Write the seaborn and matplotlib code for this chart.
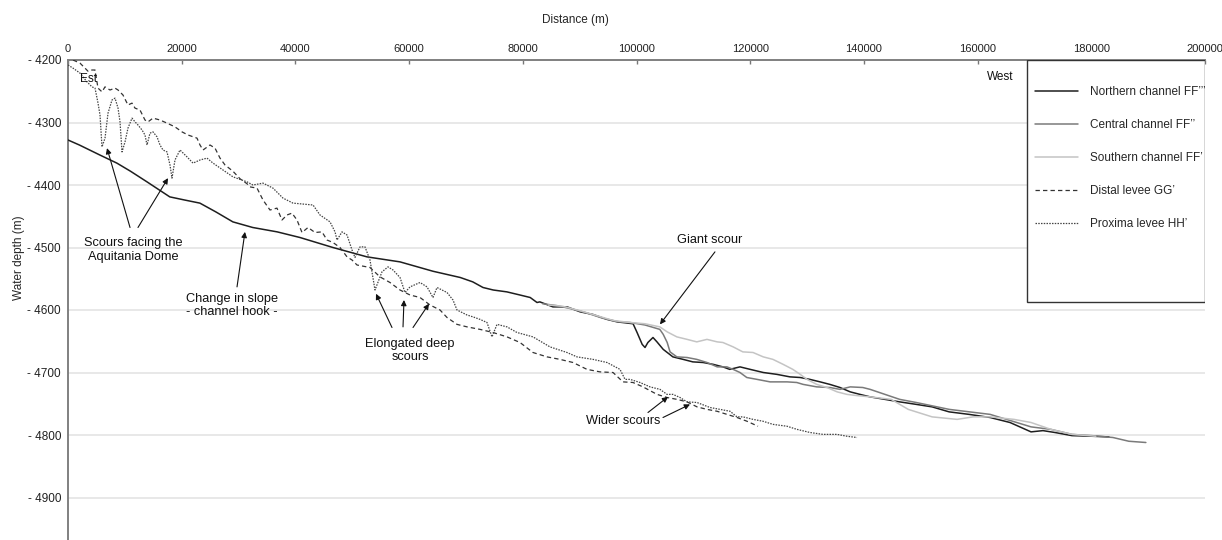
import matplotlib
matplotlib.use("Agg")
import matplotlib.pyplot as plt
import seaborn as sns
import pandas as pd
from matplotlib.patches import Rectangle

# ---------------- data (distance m, depth m) ----------------
north_x = [0, 2000, 5600, 8600, 11000, 13900, 17900, 20500, 23200, 26000, 29000, 32500, 36800, 40800,
           46600, 52600, 58400, 64200, 69000, 71200, 73000, 74800, 77200, 79500, 81300, 82500, 83000,
           85300, 87800, 90100, 92300, 94800, 96600, 99400, 100100, 101000, 101500, 102000, 102900,
           103600, 104700, 106400, 108200, 109900, 111700, 113500, 115200, 116400, 118200, 120000,
           122300, 124700, 127000, 128800, 130500, 132300, 134000, 135800, 137600, 139300, 141100,
           146300, 149200, 152000, 155000, 158500, 162200, 165700, 169400, 171500, 173600, 176600,
           180100, 183100]
north_y = [-4328, -4336, -4352, -4365, -4378, -4395, -4419, -4424, -4429, -4443, -4459, -4468, -4475, -4484,
           -4500, -4515, -4523, -4538, -4548, -4555, -4564, -4568, -4571, -4576, -4580, -4588, -4587,
           -4595, -4595, -4603, -4607, -4615, -4619, -4622, -4636, -4655, -4660, -4652, -4644,
           -4651, -4663, -4675, -4679, -4683, -4684, -4687, -4691, -4695, -4691, -4695,
           -4700, -4703, -4707, -4708, -4711, -4715, -4719, -4724, -4731, -4735, -4739,
           -4747, -4751, -4755, -4763, -4767, -4772, -4780, -4795, -4793, -4796, -4801,
           -4802, -4803]

central_x = [83500, 86000, 88500, 91000, 94000, 97000, 98900, 101500, 104100, 104700, 105400, 105900,
             107100, 108900, 110600, 112400, 114200, 115900, 117000, 118200, 119400, 121200, 123500,
             126500, 128200, 129300, 131700, 134000, 135800, 137600, 139800, 141100, 146300, 149200,
             155000, 162200, 169400, 172900, 176600, 180100, 183800, 186600, 189600]
central_y = [-4590, -4593, -4598, -4604, -4613, -4619, -4620, -4624, -4631, -4639, -4652, -4667,
             -4675, -4676, -4679, -4684, -4691, -4691, -4695, -4700, -4708, -4711, -4715,
             -4715, -4716, -4719, -4723, -4724, -4727, -4723, -4724, -4727, -4743, -4748,
             -4759, -4767, -4787, -4791, -4799, -4801, -4804, -4810, -4812]

south_x = [84500, 87000, 90000, 93000, 96000, 98900, 101500, 104100, 105400, 107100, 108900, 110600,
           112400, 114200, 115200, 117000, 118700, 120500, 122300, 124000, 125800, 127500, 128800,
           130000, 131700, 133500, 135300, 137000, 138800, 141100, 144800, 147800, 152000, 156400,
           159200, 162200, 166400, 169400, 172900, 176600, 180800]
south_y = [-4592, -4594, -4601, -4609, -4617, -4620, -4622, -4627, -4635, -4643, -4647, -4651,
           -4647, -4651, -4652, -4659, -4667, -4668, -4675, -4679, -4687, -4695, -4703,
           -4711, -4719, -4724, -4731, -4735, -4737, -4739, -4743, -4759, -4771, -4775,
           -4771, -4771, -4775, -4780, -4791, -4799, -4802]

distal_x = [880, 2110, 2990, 3520, 4220, 4750, 5280, 5980, 6510, 7390, 8270, 8800, 9670, 10550, 11260,
            11790, 12660, 13540, 14070, 14950, 16180, 17410, 18820, 20050, 21110, 22690, 23220, 23750,
            24980, 25860, 26740, 27620, 29020, 30250, 31490, 32010, 33250, 34300, 35530, 36760, 37640,
            38520, 39400, 40280, 41160, 42220, 43450, 44680, 45560, 46610, 47850, 49080, 49960, 50840,
            53120, 54880, 56640, 58400, 60160, 61920, 63680, 65440, 66670, 68430, 70190, 72470, 74760,
            77220, 79510, 81790, 84260, 86540, 88830, 91290, 93580, 95870, 97620, 99380, 101140,
            103610, 105370, 107130, 108890, 110650, 112400, 114160, 115920, 117680, 119440, 121370]
distal_y = [-4200, -4205, -4213, -4218, -4216, -4216, -4245, -4251, -4243, -4248, -4245, -4248, -4256,
            -4272, -4269, -4277, -4280, -4296, -4299, -4293, -4296, -4301, -4307, -4315, -4320, -4325,
            -4336, -4344, -4336, -4341, -4357, -4368, -4378, -4390, -4398, -4403, -4405, -4424, -4440,
            -4437, -4456, -4448, -4445, -4456, -4476, -4468, -4476, -4475, -4488, -4492, -4500, -4515,
            -4520, -4528, -4532, -4547, -4556, -4568, -4576, -4580, -4592, -4600, -4612, -4623, -4627,
            -4631, -4636, -4643, -4652, -4668, -4675, -4679, -4684, -4695, -4699, -4700, -4715, -4716,
            -4723, -4735, -4740, -4743, -4747, -4755, -4759, -4762, -4767, -4772, -4778, -4786]

prox_x = [0, 880, 2110, 3340, 4220, 4750, 5280, 5630, 5980, 6510, 7040, 7740, 8270, 8800, 9150, 9500,
          10030, 10550, 11260, 11790, 12310, 13020, 13540, 13900, 14420, 14950, 15660, 16180, 16710,
          17410, 17940, 18290, 18820, 19700, 20930, 21990, 23220, 24450, 25510, 27260, 29020, 31490,
          32540, 34300, 36060, 37820, 39580, 43100, 44330, 46090, 46970, 47320, 48200, 49080, 49960,
          50480, 51360, 52240, 53120, 54000, 55230, 56290, 57170, 58400, 59280, 60160, 61920, 63150,
          64200, 64910, 66670, 67720, 68430, 70190, 71240, 72470, 73700, 74580, 75460, 77220, 78980,
          81790, 84780, 87770, 89530, 92350, 94810, 97100, 97980, 98860, 100620, 102380, 104130,
          105370, 106420, 107650, 108880, 110640, 112930, 114690, 116450, 117680, 118740, 120500,
          122250, 124010, 126480, 128230, 130520, 132800, 135270, 137030, 138790]
prox_y = [-4208, -4213, -4221, -4235, -4243, -4245, -4269, -4288, -4339, -4325, -4285, -4264, -4261,
          -4277, -4299, -4347, -4331, -4309, -4293, -4299, -4304, -4312, -4320, -4336, -4317, -4315,
          -4323, -4336, -4344, -4347, -4368, -4389, -4360, -4344, -4355, -4365, -4360, -4357, -4365,
          -4376, -4387, -4395, -4400, -4397, -4405, -4421, -4429, -4432, -4448, -4459, -4475, -4488,
          -4475, -4480, -4504, -4516, -4499, -4499, -4520, -4568, -4539, -4531, -4536, -4548, -4572,
          -4563, -4556, -4563, -4580, -4564, -4572, -4584, -4600, -4608, -4611, -4615, -4620, -4643,
          -4623, -4627, -4636, -4643, -4659, -4668, -4675, -4679, -4684, -4695, -4711, -4711, -4716,
          -4723, -4727, -4735, -4735, -4740, -4747, -4748, -4756, -4759, -4762, -4771, -4771, -4775,
          -4778, -4783, -4786, -4791, -4796, -4799, -4799, -4802, -4804]

series_labels = ["Northern channel FF\u2019\u2019\u2019", "Central channel FF\u2019\u2019",
                 "Southern channel FF\u2019", "Distal levee GG\u2019", "Proxima levee HH\u2019"]
x_ticks = [0, 20000, 40000, 60000, 80000, 100000, 120000, 140000, 160000, 180000, 200000]
y_ticks = [-4200, -4300, -4400, -4500, -4600, -4700, -4800, -4900]

# ---------------- styling ----------------
sns.set_style("white")
plt.rcParams['font.family'] = ['Liberation Sans', 'DejaVu Sans']
FONT = 'Liberation Sans'

W, H = 1222, 540
fig = plt.figure(figsize=(W / 100, H / 100), dpi=100)
AX_L, AX_R, AX_T, AX_B = 68, 1205, 60, 540
ax = fig.add_axes([AX_L / W, 1 - AX_B / H, (AX_R - AX_L) / W, (AX_B - AX_T) / H])

YMIN = -4200 - (AX_B - AX_T) * 100 / 62.5
ax.set_xlim(0, 200000)
ax.set_ylim(YMIN, -4200)

styles = [
    dict(color="#1e1e1e", lw=1.1, dash=None),
    dict(color="#7a7a7a", lw=1.1, dash=None),
    dict(color="#c4c4c4", lw=1.1, dash=None),
    dict(color="#333333", lw=0.9, dash=(3.5, 2.5)),
    dict(color="#444444", lw=0.9, dash=(1.2, 1.0)),
]
data = [(north_x, north_y), (central_x, central_y), (south_x, south_y),
        (distal_x, distal_y), (prox_x, prox_y)]
handles = []
for (xs, ys), lab, st in zip(data, series_labels, styles):
    df = pd.DataFrame({"Distance": xs, "Depth": ys})
    sns.lineplot(data=df, x="Distance", y="Depth", sort=False, estimator=None, ax=ax,
                 color=st["color"], lw=st["lw"], label=lab, zorder=4)
    ln = ax.lines[-1]
    if st["dash"] is not None:
        ln.set_dashes(st["dash"])
    handles.append(ln)

# axes cosmetics
ax.xaxis.tick_top()
ax.xaxis.set_label_position("top")
ax.set_xticks(x_ticks)
ax.set_xticklabels([str(v) for v in x_ticks], fontsize=8, color="#222222", fontname=FONT)
ax.set_yticks(y_ticks)
ax.set_yticklabels(["- %d" % abs(v) for v in y_ticks], fontsize=8.5, color="#222222", fontname=FONT)
ax.tick_params(axis="x", direction="in", length=3, width=1, color="#777777", pad=4)
ax.tick_params(axis="y", direction="out", length=3, width=1, color="#777777", pad=2)
ax.set_xlabel("")
ax.set_ylabel("")
for s in ["right", "bottom"]:
    ax.spines[s].set_visible(False)
for s in ["top", "left"]:
    ax.spines[s].set_color("#808080")
    ax.spines[s].set_linewidth(1.4)
ax.yaxis.grid(True, color="#e4e4e4", lw=1.2, zorder=0)
ax.xaxis.grid(False)
ax.set_axisbelow(True)

fig.text(575 / W, 1 - 20 / H, "Distance (m)", ha="center", va="center", fontsize=8.5, fontname=FONT)
fig.text(19 / W, 1 - 258 / H, "Water depth (m)", ha="center", va="center", rotation=90,
         fontsize=8.5, fontname=FONT)

# legend box
def ax_frac_x(px):
    return (px - AX_L) / (AX_R - AX_L)

def ax_frac_y(py):
    return 1 - (py - AX_T) / (AX_B - AX_T)

rect = Rectangle((ax_frac_x(1027), ax_frac_y(302)), ax_frac_x(1205) - ax_frac_x(1027),
                 ax_frac_y(60) - ax_frac_y(302), transform=ax.transAxes,
                 facecolor="white", edgecolor="#333333", lw=1.0, zorder=5)
ax.add_patch(rect)
leg = ax.legend(handles=handles, labels=series_labels, loc="upper left",
                bbox_to_anchor=(ax_frac_x(1035), ax_frac_y(86)), frameon=False,
                handlelength=3.65, handletextpad=1.0, labelspacing=1.78,
                borderpad=0, borderaxespad=0, prop={"family": FONT, "size": 8.5})
leg.set_zorder(6)

# annotations
TXT = dict(fontsize=9.2, fontname=FONT, color="#111111", ha="center", va="center", zorder=7)
ARW = dict(arrowstyle="-|>", color="#111111", lw=0.8, mutation_scale=8, shrinkA=0, shrinkB=0)

def arrow(tail, tip):
    ax.annotate("", xy=tip, xytext=tail, arrowprops=ARW, zorder=7)

ax.text(3520, -4230, "Est", **dict(TXT, fontsize=8.5))
ax.text(163900, -4227, "West", **dict(TXT, fontsize=8.5))

ax.text(11430, -4504, "Scours facing the\nAquitania Dome", linespacing=1.15, **TXT)
arrow((10910, -4468), (6860, -4341))
arrow((12310, -4468), (17590, -4389))

ax.text(28850, -4593, "Change in slope\n- channel hook -", linespacing=1.15, **TXT)
arrow((29730, -4563), (31130, -4475))

ax.text(60160, -4665, "Elongated deep\nscours", linespacing=1.15, **TXT)
arrow((56990, -4628), (54180, -4574))
arrow((58930, -4627), (59100, -4584))
arrow((60690, -4628), (63500, -4590))

ax.text(112900, -4488, "Giant scour", **TXT)
arrow((113800, -4507), (104130, -4623))

ax.text(97620, -4778, "Wider scours", **TXT)
arrow((102020, -4764), (105540, -4739))
arrow((104660, -4772), (109410, -4751))

fig.savefig("out.png", dpi=100, facecolor="white")
